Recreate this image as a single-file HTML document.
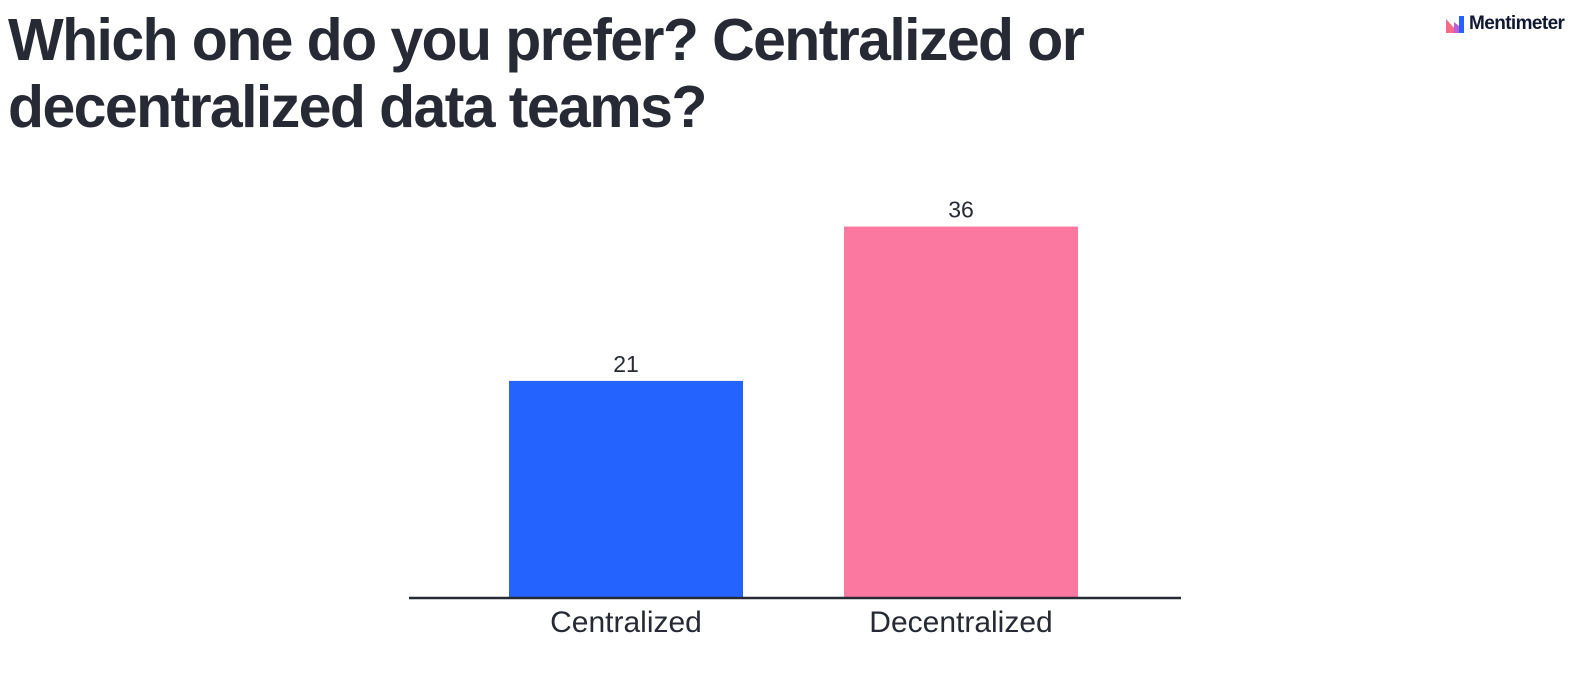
<!DOCTYPE html>
<html><head><meta charset="utf-8"><style>
body{margin:0;width:1596px;height:677px;background:#fff;overflow:hidden;font-family:"Liberation Sans",sans-serif;color:#272a35}
#title{position:absolute;left:8px;top:7px;font-size:59px;line-height:67px;letter-spacing:-1.6px;margin:0;font-weight:bold;color:#272a35}
#logo{position:absolute;left:1446px;top:13px;display:flex;align-items:center;font-size:19px;font-weight:bold;letter-spacing:-0.6px;color:#101834}
</style></head><body>
<h1 id="title">Which one do you prefer? Centralized or<br>decentralized data teams?</h1>
<div id="logo"><svg width="18" height="17" viewBox="0 0 18 17"><polygon points="0,3 10,14 10,17 0,17" fill="#f76b8a"/><polygon points="8,6 13,10 13,17 8,17" fill="#c05cd8"/><rect x="13" y="0" width="5" height="17" fill="#2563ff"/></svg><span style="margin-left:5px">Mentimeter</span></div>
<svg id="chart" width="1596" height="677" style="position:absolute;left:0;top:0"></svg>
<script>
const categories=["Centralized","Decentralized"];
const values=[21,36];
const colors=["#2563ff","#fb79a0"];
const svg=document.getElementById('chart');const NS='http://www.w3.org/2000/svg';
const baseY=597, pxPerUnit=10.29, centers=[626,961], barW=234;
function y(v){return baseY-v*pxPerUnit;}
categories.forEach((c,i)=>{
 const r=document.createElementNS(NS,'rect');
 r.setAttribute('x',centers[i]-barW/2);r.setAttribute('y',y(values[i]));
 r.setAttribute('width',barW);r.setAttribute('height',baseY-y(values[i]));r.setAttribute('fill',colors[i]);
 
 
 svg.appendChild(r);
 const t=document.createElementNS(NS,'text');
 t.setAttribute('x',centers[i]);t.setAttribute('y',y(values[i])-9);t.setAttribute('text-anchor','middle');
 t.setAttribute('font-size','23');t.setAttribute('fill','#272a35');t.setAttribute('font-family','Liberation Sans, sans-serif');
 t.textContent=values[i];
 
 
 svg.appendChild(t);
 const l=document.createElementNS(NS,'text');
 l.setAttribute('x',centers[i]);l.setAttribute('y',632);l.setAttribute('text-anchor','middle');
 l.setAttribute('font-size','30');l.setAttribute('fill','#272a35');l.setAttribute('font-family','Liberation Sans, sans-serif');
 l.textContent=c;
 
 
 svg.appendChild(l);
});
const ax=document.createElementNS(NS,'line');
ax.setAttribute('x1',409);ax.setAttribute('x2',1181);ax.setAttribute('y1',598);ax.setAttribute('y2',598);
ax.setAttribute('stroke','#272a35');ax.setAttribute('stroke-width','2.5');


svg.appendChild(ax);
</script>
</body></html>
